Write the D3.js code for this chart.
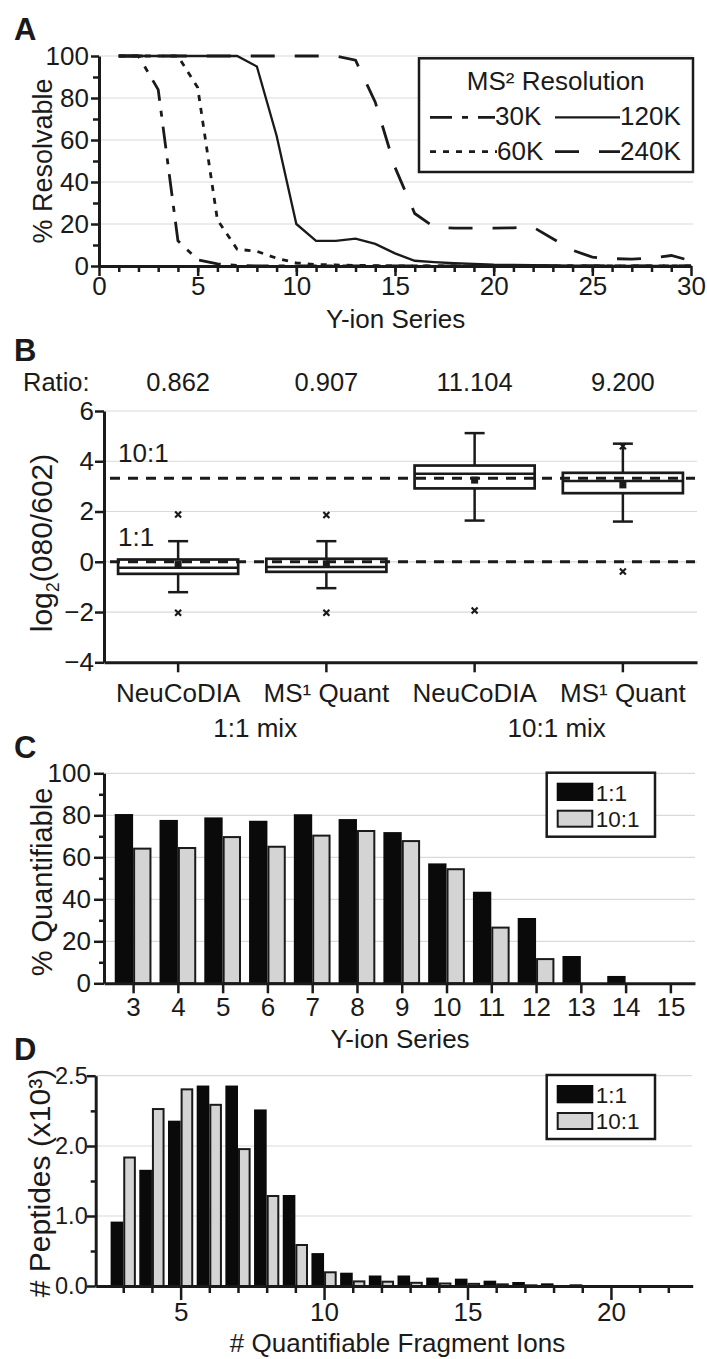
<!DOCTYPE html>
<html><head><meta charset="utf-8">
<script src="https://cdn.jsdelivr.net/npm/d3@7"></script>
<style>
body{margin:0;background:#fff;}
svg{display:block;}
</style></head><body>
<svg id="chart" width="707" height="1359"></svg>
<script>
// ===== Panel A data =====
const ionSeriesA = [1,2,3,4,5,6,7,8,9,10,11,12,13,14,15,16,17,18,19,20,21,22,23,24,25,26,27,28,29,30];
const res30K  = [100,100,84,12,3,1,0.3,0,0,0,0,0,0,0,0,0,0,0,0,0,0,0,0,0,0,0,0,0,0,0];
const res60K  = [100,100,100,100,85,22,8,7,3.7,1.5,0.7,0.5,0.3,0.2,0.1,0,0,0,0,0,0,0,0,0,0,0,0,0,0,0];
const res120K = [100,100,100,100,100,100,100,95,62,20,12,12,13,10.5,6,2.5,1.8,1.3,1.0,0.6,0.5,0.4,0.3,0.2,0.2,0.1,0.1,0.1,0.1,0.1];
const res240K = [100,100,100,100,100,100,100,100,100,100,100,100,98,78,47,25,18.5,18,18,18,18.2,18.5,13,7.5,4.2,3.5,3.3,3.8,5,2.5];
const resNames = ['30K','60K','120K','240K'];
const yTicksA = [0,20,40,60,80,100];

// ===== Panel B data =====
const boxCategories = ['NeuCoDIA','MS¹ Quant','NeuCoDIA','MS¹ Quant'];
const boxGroups = ['1:1 mix','10:1 mix'];
const boxRatios = ['0.862','0.907','11.104','9.200'];
const boxQ3 = [0.09, 0.12, 3.83, 3.54];
const boxQ1 = [-0.48, -0.40, 2.92, 2.73];
const boxMedian = [-0.24, -0.21, 3.50, 3.21];
const boxMean = [-0.11, -0.08, 3.25, 3.06];
const whiskerHigh = [0.82, 0.82, 5.12, 4.70];
const whiskerLow = [-1.21, -1.05, 1.64, 1.60];
const boxOutliers = [[1.88,-2.03],[1.86,-2.03],[-1.94],[4.60,-0.39]];
const refLevels = [0, 3.32];
const refLabels = ['1:1','10:1'];
const yTicksB = [-4,-2,0,2,4,6];

// ===== Panel C data =====
const ionSeriesC = [3,4,5,6,7,8,9,10,11,12,13,14,15];
const quant11 = [80.6,77.8,79.0,77.4,80.5,78.2,72.0,57.1,43.6,31.1,13.0,3.5,0];
const quant101 = [64.6,64.9,70.1,65.5,70.8,73.0,68.2,54.8,27.0,12.0,0,0,0];
const yTicksC = [0,20,40,60,80,100];

// ===== Panel D data =====
const fragIons = [3,4,5,6,7,8,9,10,11,12,13,14,15,16,17,18,19,20,21,22];
const pep11 = [0.92,1.66,2.18,2.43,2.43,2.26,1.30,0.47,0.19,0.15,0.15,0.12,0.105,0.076,0.057,0.038,0.024,0.012,0.008,0.006];
const pep101 = [1.85,2.27,2.41,2.30,1.97,1.30,0.60,0.21,0.08,0.076,0.06,0.05,0.045,0.038,0.024,0.014,0.01,0.005,0.004,0.003];
const yTicksD = [0,1,2,2.5];
const xTicksD = [5,10,15,20];
const legendKeys = ['1:1','10:1'];

// ===== drawing =====
const FONT = '"Liberation Sans",Arial,sans-serif';
const INK = '#1a1a1a';
const GRID = '#d9d9d9';
const GRAYFILL = '#d4d4d4';
const svg = d3.select('#chart');

function styleAxis(g, fs){
  g.attr('font-family', FONT).attr('font-size', fs);
  g.select('.domain').attr('stroke', INK).attr('stroke-width', 3);
  g.selectAll('.tick line').attr('stroke', INK).attr('stroke-width', 2.5);
  g.selectAll('.tick text').attr('fill', INK);
}
function minor(g){ g.select('.domain').remove(); g.selectAll('.tick line').attr('stroke', INK).attr('stroke-width', 2.5); }
function txt(x, y, s, fs, anchor, weight){
  return svg.append('text').attr('x', x).attr('y', y).attr('font-family', FONT)
    .attr('font-size', fs).attr('fill', INK).attr('text-anchor', anchor || 'start')
    .attr('font-weight', weight || 'normal').text(s);
}
function vtitle(x, y, fs){
  return svg.append('text').attr('transform', `translate(${x},${y}) rotate(-90)`)
    .attr('font-family', FONT).attr('font-size', fs).attr('fill', INK).attr('text-anchor', 'middle');
}

// ---------- Panel A ----------
const xA = d3.scaleLinear().domain([0,30]).range([99,691]);
const yA = d3.scaleLinear().domain([0,100]).range([266,56]);
const gA = svg.append('g');
gA.selectAll('line.grid').data(yTicksA.filter(d => d > 0)).join('line')
  .attr('x1', xA(0)).attr('x2', xA(30) + 2).attr('y1', d => yA(d)).attr('y2', d => yA(d))
  .attr('stroke', GRID).attr('stroke-width', 1.2);
const seriesA = [
  {name:'240K', vals:res240K, dash:'24,20', w:2.8},
  {name:'120K', vals:res120K, dash:null, w:2.3},
  {name:'60K', vals:res60K, dash:'6,7', w:2.8},
  {name:'30K', vals:res30K, dash:'22,10,6,10', w:2.8}
];
const lineA = d3.line().x((d,i) => xA(ionSeriesA[i])).y(d => yA(d));
seriesA.forEach(s => {
  gA.append('path').datum(s.vals).attr('d', lineA).attr('fill','none')
    .attr('stroke', INK).attr('stroke-width', s.w).attr('stroke-dasharray', s.dash);
});
gA.append('g').attr('transform', `translate(${xA(0)},0)`)
  .call(d3.axisLeft(yA).tickValues([10,30,50,70,90]).tickSize(6).tickFormat('')).call(minor);
gA.append('g').attr('transform', `translate(0,${yA(0)})`)
  .call(d3.axisBottom(xA).tickValues(d3.range(1,30)).tickSize(6).tickFormat('')).call(minor);
gA.append('g').attr('transform', `translate(${xA(0)},0)`)
  .call(d3.axisLeft(yA).tickValues(yTicksA).tickSize(8).tickSizeOuter(0).tickPadding(2))
  .call(g => styleAxis(g, 26));
gA.append('g').attr('transform', `translate(0,${yA(0)})`)
  .call(d3.axisBottom(xA).tickValues([0,5,10,15,20,25,30]).tickSize(10).tickSizeOuter(0).tickPadding(1))
  .call(g => styleAxis(g, 26));
txt(14, 40, 'A', 31, 'start', 'bold');
txt(395.6, 328, 'Y-ion Series', 26, 'middle');
vtitle(52, 161, 27).text('% Resolvable');
// legend A
gA.append('rect').attr('x', 419).attr('y', 58.3).attr('width', 274).attr('height', 113.7)
  .attr('fill', '#fff').attr('stroke', INK).attr('stroke-width', 2.5);
txt(555.7, 90, 'MS² Resolution', 26, 'middle');
const legA = [
  {name:'30K', x:430, y:117.3, tx:495, ty:125},
  {name:'120K', x:555, y:117.3, tx:620, ty:125},
  {name:'60K', x:430, y:151.7, tx:497, ty:160},
  {name:'240K', x:555, y:151.7, tx:620, ty:160}
];
legA.forEach(l => {
  const s = seriesA.find(d => d.name === l.name);
  gA.append('line').attr('x1', l.x).attr('x2', l.tx).attr('y1', l.y).attr('y2', l.y)
    .attr('stroke', INK).attr('stroke-width', s.w).attr('stroke-dasharray', s.dash);
  txt(l.tx, l.ty, l.name, 26, 'start');
});

// ---------- Panel B ----------
const xB = d3.scaleBand().domain(d3.range(boxCategories.length)).range([104,697]);
const yB = d3.scaleLinear().domain([-4,6]).range([662.3,411]);
const gB = svg.append('g');
gB.selectAll('line.grid').data(yTicksB.filter(d => d > -4)).join('line')
  .attr('x1', 104).attr('x2', 697).attr('y1', d => yB(d)).attr('y2', d => yB(d))
  .attr('stroke', GRID).attr('stroke-width', 1.2);
const bw = xB.bandwidth() * 0.81;
const cx = i => xB(i) + xB.bandwidth() / 2;
boxCategories.forEach((c, i) => {
  const x = cx(i);
  gB.append('line').attr('x1', x).attr('x2', x).attr('y1', yB(whiskerHigh[i])).attr('y2', yB(boxQ3[i]))
    .attr('stroke', INK).attr('stroke-width', 2.5);
  gB.append('line').attr('x1', x).attr('x2', x).attr('y1', yB(boxQ1[i])).attr('y2', yB(whiskerLow[i]))
    .attr('stroke', INK).attr('stroke-width', 2.5);
  [whiskerHigh[i], whiskerLow[i]].forEach(v => {
    gB.append('line').attr('x1', x - 10).attr('x2', x + 10).attr('y1', yB(v)).attr('y2', yB(v))
      .attr('stroke', INK).attr('stroke-width', 2.5);
  });
  gB.append('rect').attr('x', x - bw/2).attr('y', yB(boxQ3[i])).attr('width', bw)
    .attr('height', yB(boxQ1[i]) - yB(boxQ3[i])).attr('fill', '#fff').attr('stroke', INK).attr('stroke-width', 2.7);
  gB.append('line').attr('x1', x - bw/2).attr('x2', x + bw/2).attr('y1', yB(boxMedian[i])).attr('y2', yB(boxMedian[i]))
    .attr('stroke', INK).attr('stroke-width', 2.5);
  gB.append('rect').attr('x', x - 3.5).attr('y', yB(boxMean[i]) - 3.5).attr('width', 7).attr('height', 7).attr('fill', INK);
  boxOutliers[i].forEach(v => {
    const y = yB(v);
    gB.append('path').attr('d', `M${x-3},${y-3}L${x+3},${y+3}M${x+3},${y-3}L${x-3},${y+3}`)
      .attr('stroke', INK).attr('stroke-width', 2.2);
  });
});
refLevels.forEach((v, i) => {
  gB.append('line').attr('x1', 110).attr('x2', 695).attr('y1', yB(v)).attr('y2', yB(v))
    .attr('stroke', INK).attr('stroke-width', 3).attr('stroke-dasharray', '10,8');
  txt(118, yB(v) - (i === 0 ? 15.6 : 16), refLabels[i], 26, 'start');
});
gB.append('g').attr('transform', 'translate(104,0)')
  .call(d3.axisLeft(yB).tickValues(yTicksB).tickSize(9).tickSizeOuter(0).tickPadding(1))
  .call(g => styleAxis(g, 26));
gB.append('g').attr('transform', `translate(0,${yB(-4)})`)
  .call(d3.axisBottom(xB).tickSize(10).tickSizeOuter(0).tickFormat(''))
  .call(g => styleAxis(g, 26));
boxCategories.forEach((c, i) => txt(cx(i), 701.7, c, 26, 'middle'));
boxGroups.forEach((gname, j) => txt((cx(2*j) + cx(2*j+1)) / 2 + (j === 0 ? 3 : 8), 736.7, gname, 26, 'middle'));
txt(23, 390.5, 'Ratio:', 25.5, 'start');
boxRatios.forEach((r, i) => txt(cx(i), 390.5, r, 25.5, 'middle'));
txt(14, 361, 'B', 31, 'start', 'bold');
const tB = vtitle(52, 543, 30);
tB.append('tspan').text('log');
tB.append('tspan').attr('font-size', 18).attr('dy', 7).text('2');
tB.append('tspan').attr('dy', -7).text('(080/602)');

// ---------- legend helper ----------
function barLegend(x0, y0){
  svg.append('rect').attr('x', x0).attr('y', y0).attr('width', 108.3).attr('height', 64)
    .attr('fill', '#fff').attr('stroke', INK).attr('stroke-width', 2.5);
  svg.append('rect').attr('x', x0 + 10).attr('y', y0 + 10).attr('width', 36.6).attr('height', 18.3).attr('fill', '#0a0a0a');
  svg.append('rect').attr('x', x0 + 11).attr('y', y0 + 38).attr('width', 34.6).attr('height', 16)
    .attr('fill', GRAYFILL).attr('stroke', INK).attr('stroke-width', 2);
  txt(x0 + 49, y0 + 28.3, legendKeys[0], 22.5, 'start');
  txt(x0 + 49, y0 + 54.3, legendKeys[1], 22.5, 'start');
}

// ---------- Panel C ----------
const xC = d3.scaleLinear().domain([2.35,15.55]).range([104,695]);
const yC = d3.scaleLinear().domain([0,100]).range([983.3,773.3]);
const gC = svg.append('g');
gC.selectAll('line.grid').data(yTicksC.filter(d => d > 0)).join('line')
  .attr('x1', 104).attr('x2', 695).attr('y1', d => yC(d)).attr('y2', d => yC(d))
  .attr('stroke', GRID).attr('stroke-width', 1.2);
const bwC = 0.41;
gC.selectAll('rect.b11').data(ionSeriesC.map((v,i) => [v, quant11[i]]).filter(d => d[1] > 0)).join('rect')
  .attr('x', d => xC(d[0] - bwC)).attr('width', d => xC(d[0]) - xC(d[0] - bwC))
  .attr('y', d => yC(d[1])).attr('height', d => yC(0) - yC(d[1])).attr('fill', '#0a0a0a');
gC.selectAll('rect.b101').data(ionSeriesC.map((v,i) => [v, quant101[i]]).filter(d => d[1] > 0)).join('rect')
  .attr('x', d => xC(d[0]) + 1).attr('width', d => xC(d[0] + bwC) - xC(d[0]) - 2)
  .attr('y', d => yC(d[1]) + 1).attr('height', d => yC(0) - yC(d[1]) - 1)
  .attr('fill', GRAYFILL).attr('stroke', INK).attr('stroke-width', 2);
gC.append('g').attr('transform', 'translate(104,0)')
  .call(d3.axisLeft(yC).tickValues([10,30,50,70,90]).tickSize(5).tickFormat('')).call(minor);
gC.append('g').attr('transform', 'translate(104,0)')
  .call(d3.axisLeft(yC).tickValues(yTicksC).tickSize(10).tickSizeOuter(0).tickPadding(3))
  .call(g => styleAxis(g, 26));
gC.append('g').attr('transform', `translate(0,${yC(0)})`)
  .call(d3.axisBottom(xC).tickValues(ionSeriesC).tickSize(10).tickSizeOuter(0).tickPadding(4).tickFormat(d3.format('d')))
  .call(g => styleAxis(g, 26));
barLegend(546.7, 772.7);
txt(14, 758, 'C', 31, 'start', 'bold');
txt(400, 1048, 'Y-ion Series', 26, 'middle');
vtitle(52, 882, 29).text('% Quantifiable');

// ---------- Panel D ----------
const xD = d3.scaleLinear().domain([2.04,22.85]).range([95.7,692.7]);
const yD = d3.scaleLinear().domain([0,1,2,2.5]).range([1286,1216,1146,1075.7]);
const gD = svg.append('g');
gD.selectAll('line.grid').data(yTicksD.filter(d => d > 0)).join('line')
  .attr('x1', 95.7).attr('x2', 691.7).attr('y1', d => yD(d)).attr('y2', d => yD(d))
  .attr('stroke', GRID).attr('stroke-width', 1.2);
const bwD = 0.44;
gD.selectAll('rect.b11').data(fragIons.map((v,i) => [v, pep11[i]])).join('rect')
  .attr('x', d => xD(d[0] - bwD)).attr('width', d => xD(d[0]) - xD(d[0] - bwD))
  .attr('y', d => yD(d[1])).attr('height', d => yD(0) - yD(d[1])).attr('fill', '#0a0a0a');
gD.selectAll('rect.b101').data(fragIons.map((v,i) => [v, pep101[i]])).join('rect')
  .attr('x', d => xD(d[0]) + 1).attr('width', d => xD(d[0] + bwD) - xD(d[0]) - 2)
  .attr('y', d => yD(d[1]) + 1).attr('height', d => Math.max(0, yD(0) - yD(d[1]) - 1))
  .attr('fill', GRAYFILL).attr('stroke', INK).attr('stroke-width', 2);
gD.append('g').attr('transform', 'translate(95.7,0)')
  .call(d3.axisLeft(yD).tickValues([0.5,1.5,2.25]).tickSize(5).tickFormat('')).call(minor);
gD.append('g').attr('transform', 'translate(95.7,0)')
  .call(d3.axisLeft(yD).tickValues(yTicksD).tickSize(9).tickSizeOuter(0).tickPadding(-1).tickFormat(d3.format('.1f')))
  .call(g => styleAxis(g, 23.5));
gD.append('g').attr('transform', `translate(0,${yD(0)})`)
  .call(d3.axisBottom(xD).tickValues(fragIons.filter(v => v % 5 !== 0)).tickSize(7).tickFormat('')).call(minor);
gD.append('g').attr('transform', `translate(0,${yD(0)})`)
  .call(d3.axisBottom(xD).tickValues(xTicksD).tickSize(14).tickSizeOuter(0).tickPadding(3))
  .call(g => styleAxis(g, 26));
barLegend(546.7, 1075);
txt(14, 1060, 'D', 31, 'start', 'bold');
txt(397.5, 1352, '# Quantifiable Fragment Ions', 26, 'middle');
vtitle(50, 1183, 30).text('# Peptides (x10³)');
</script>
</body></html>
